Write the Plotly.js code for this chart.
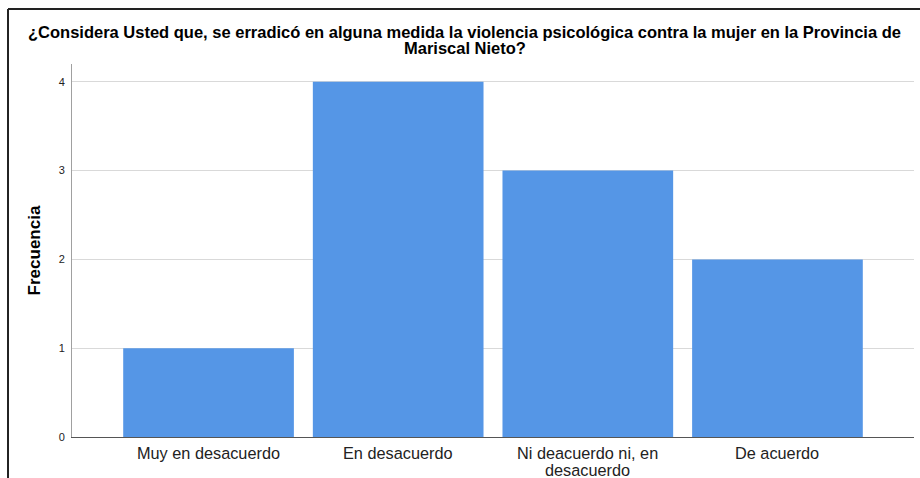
<!DOCTYPE html>
<html>
<head>
<meta charset="utf-8">
<script src="https://cdn.plot.ly/plotly-3.0.1.min.js"></script>
<style>html,body{margin:0;padding:0;background:#fff;}#chart{width:920px;height:478px;}</style>
</head>
<body>
<div id="chart"></div>
<script>
var categories = ["Muy en desacuerdo", "En desacuerdo", "Ni deacuerdo ni, en<br>desacuerdo", "De acuerdo"];
var frecuencia = [1, 4, 3, 2];
var yTicks = [0, 1, 2, 3, 4];
var titleLines = ["¿Considera Usted que, se erradicó en alguna medida la violencia psicológica contra la mujer en la Provincia de", "Mariscal Nieto?"];
var yTitle = "Frecuencia";

var FONT = "Liberation Sans, Arial, sans-serif";

var trace = {
  type: "bar",
  x: categories,
  y: frecuencia,
  width: 0.9,
  marker: {color: "rgb(85,150,230)", line: {width: 0}},
  hoverinfo: "skip"
};

var annotations = [];
// title lines (tight line spacing like the original)
titleLines.forEach(function (t, i) {
  annotations.push({
    text: t, showarrow: false,
    xref: "paper", yref: "paper", x: 0.4667, y: 1, xanchor: "center", yanchor: "middle",
    yshift: 32 - i * 16,
    font: {family: FONT, size: 16.5, color: "#000", weight: "bold"}
  });
});
// category labels, one annotation per line for tight spacing
categories.forEach(function (c, ci) {
  c.split("<br>").forEach(function (line, li) {
    annotations.push({
      text: line, showarrow: false,
      xref: "x", yref: "paper", x: c, y: 0, xanchor: "center", yanchor: "middle",
      yshift: -16 - li * 17,
      font: {family: FONT, size: 16.3, color: "#222"}
    });
  });
});

var layout = {
  width: 920,
  height: 478,
  paper_bgcolor: "#ffffff",
  plot_bgcolor: "#ffffff",
  margin: {l: 72, r: 6, t: 64, b: 41},
  showlegend: false,
  xaxis: {
    type: "category",
    range: [-0.72, 3.72],
    showgrid: false,
    showline: true,
    linecolor: "#555555",
    linewidth: 1,
    ticks: "",
    showticklabels: false,
    fixedrange: true
  },
  yaxis: {
    range: [0, 4.2],
    tickvals: yTicks,
    ticktext: yTicks.map(String),
    showgrid: true,
    gridcolor: "#d9d9d9",
    gridwidth: 1,
    zeroline: false,
    showline: true,
    linecolor: "#a0a0a0",
    linewidth: 1,
    ticks: "",
    ticklen: 0,
    ticklabelstandoff: 4,
    tickfont: {family: FONT, size: 11, color: "#222"},
    title: {text: yTitle, font: {family: FONT, size: 17, color: "#000", weight: "bold"}, standoff: 13},
    fixedrange: true
  },
  annotations: annotations,
  shapes: [
    {type: "line", xref: "paper", yref: "paper", x0: -0.076, x1: 1.02, y0: 1.1475, y1: 1.1475, line: {color: "#222", width: 2}},
    {type: "line", xref: "paper", yref: "paper", x0: -0.076, x1: -0.076, y0: 1.1475, y1: -0.2, line: {color: "#222", width: 2}}
  ]
};

Plotly.newPlot("chart", [trace], layout, {displayModeBar: false, staticPlot: true});
</script>
</body>
</html>
